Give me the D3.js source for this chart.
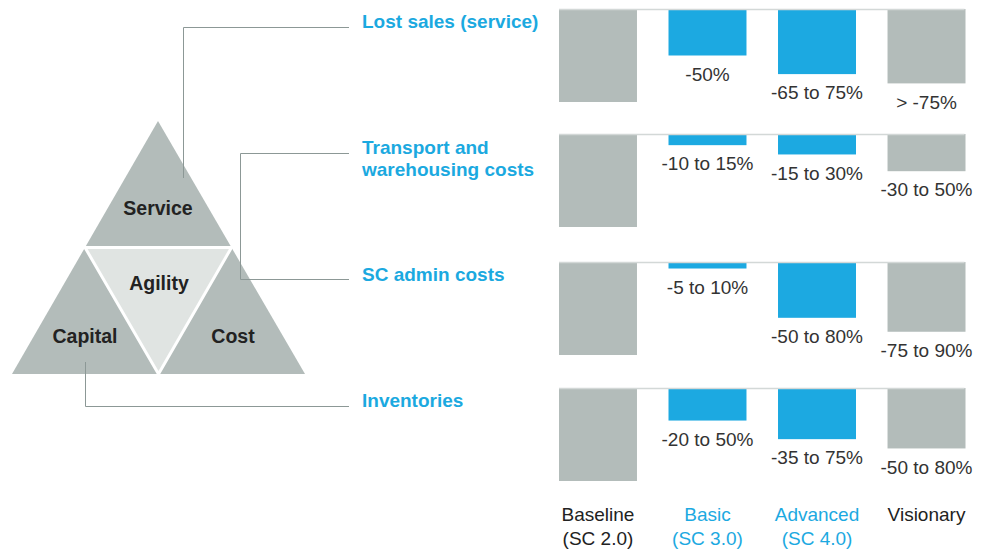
<!DOCTYPE html>
<meta charset="utf-8">
<style>
  body { margin: 0; background: #fff; }
  svg text { font-family: Arial, "Liberation Sans", sans-serif; }
  text.metric { font-size: 19px; font-weight: bold; fill: #1ba9e0; }
  text.tri { font-size: 19.5px; font-weight: bold; fill: #222; text-anchor: middle; }
  text.val { font-size: 19px; fill: #333; text-anchor: middle; }
  text.cat { font-size: 19px; text-anchor: middle; }
</style>
<script src="https://d3js.org/d3.v7.min.js"></script>
<div id="chart"></div>
<script>
// categories along the bottom
var categories = ["Baseline", "Basic", "Advanced", "Visionary"];
var categorySub = ["(SC 2.0)", "(SC 3.0)", "(SC 4.0)", ""];
var highlighted = ["Basic", "Advanced"];

// one row per metric, bar = remaining share of baseline (%)
var metrics = [["Lost sales (service)"], ["Transport and", "warehousing costs"], ["SC admin costs"], ["Inventories"]];
var lostSales = [100, 50, 70, 80];
var transport = [100, 12, 22, 40];
var admin = [100, 7, 60, 75];
var inventories = [100, 35, 55, 65];
var lostSalesLabels = ["", "-50%", "-65 to 75%", "> -75%"];
var transportLabels = ["", "-10 to 15%", "-15 to 30%", "-30 to 50%"];
var adminLabels = ["", "-5 to 10%", "-50 to 80%", "-75 to 90%"];
var inventoryLabels = ["", "-20 to 50%", "-35 to 75%", "-50 to 80%"];

var pillars = ["Service", "Agility", "Capital", "Cost"];

var rows = [
  {values: lostSales, labels: lostSalesLabels, top: 9},
  {values: transport, labels: transportLabels, top: 134},
  {values: admin, labels: adminLabels, top: 262},
  {values: inventories, labels: inventoryLabels, top: 388}
];

var W = 983, H = 550;
var grey = "#b3bcba", blue = "#1ca9e1", lineCol = "#8c9896";

var svg = d3.select("#chart").append("svg")
  .attr("width", W).attr("height", H);

var x = d3.scaleBand()
  .domain(categories)
  .range([559, 965.5])
  .paddingInner(0.288)
  .paddingOuter(0);

var y = d3.scaleLinear().domain([0, 100]).range([0, 93]);

// triangle: big grey one, light inner one, white seams
var A = [158, 121], BL = [12, 374], BR = [305, 374];
var mL = [(A[0] + BL[0]) / 2, (A[1] + BL[1]) / 2],
    mR = [(A[0] + BR[0]) / 2, (A[1] + BR[1]) / 2],
    mB = [(BL[0] + BR[0]) / 2, BL[1]];
var tri = svg.append("g");
tri.append("path").attr("d", "M" + [A, BL, BR].join("L") + "Z").attr("fill", grey);
tri.append("path").attr("d", "M" + [mL, mR, mB].join("L") + "Z")
  .attr("fill", "#e0e4e2")
  .attr("stroke", "#fff")
  .attr("stroke-width", 3);

var triPos = [[158, 208], [159, 283], [85, 336], [233, 336]];
svg.append("g").selectAll("text")
  .data(pillars)
  .enter().append("text")
  .attr("class", "tri")
  .attr("x", function(d, i) { return triPos[i][0]; })
  .attr("y", function(d, i) { return triPos[i][1]; })
  .attr("dy", "0.35em")
  .text(function(d) { return d; });

// connector lines
var conn = svg.append("g").attr("fill", "none").attr("stroke", lineCol).attr("stroke-width", 1);
conn.append("path").attr("d", "M183.5,178V27.5H349");
conn.append("path").attr("d", "M349,153.5H240.5V279.5H349");
conn.append("path").attr("d", "M85.5,362V406.5H349");

// metric headings
svg.append("g").selectAll("text")
  .data(metrics)
  .enter().append("text")
  .attr("class", "metric")
  .attr("x", 362)
  .attr("y", function(d, i) { return [21, 147, 274, 400][i]; })
  .each(function(d) {
    var t = d3.select(this);
    d.forEach(function(line, j) {
      t.append("tspan").attr("x", 362).attr("dy", j === 0 ? "0.35em" : "1.2em").text(line);
    });
  });

// bar panels
rows.forEach(function(r) {
  var g = svg.append("g").attr("transform", "translate(0," + r.top + ")");

  g.selectAll("rect")
    .data(r.values)
    .enter().append("rect")
    .attr("x", function(d, i) { return x(categories[i]); })
    .attr("y", 0)
    .attr("width", x.bandwidth())
    .attr("height", function(d) { return y(d); })
    .attr("fill", function(d, i) { return highlighted.indexOf(categories[i]) >= 0 ? blue : grey; });

  g.append("line")
    .attr("x1", x.range()[0]).attr("x2", x.range()[1] - 1)
    .attr("y1", 0.5).attr("y2", 0.5)
    .attr("stroke", "#d3d8d7").attr("stroke-width", 1.5);

  g.selectAll("text")
    .data(r.labels)
    .enter().append("text")
    .attr("class", "val")
    .attr("x", function(d, i) { return x(categories[i]) + x.bandwidth() / 2; })
    .attr("y", function(d, i) { return y(r.values[i]) + 18.5; })
    .attr("dy", "0.35em")
    .text(function(d) { return d; });
});

// category labels
var cats = svg.append("g").selectAll("text")
  .data(categories)
  .enter().append("text")
  .attr("class", "cat")
  .attr("fill", function(d) { return highlighted.indexOf(d) >= 0 ? blue : "#222"; })
  .attr("x", function(d) { return x(d) + x.bandwidth() / 2; })
  .attr("y", 514)
  .attr("dy", "0.35em");
cats.append("tspan").text(function(d) { return d; });
cats.append("tspan")
  .attr("x", function(d) { return x(d) + x.bandwidth() / 2; })
  .attr("dy", "1.27em")
  .text(function(d, i) { return categorySub[i]; });
</script>
